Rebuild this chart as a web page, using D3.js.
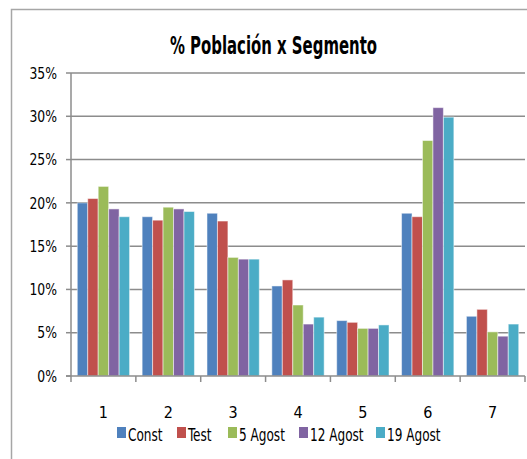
<!DOCTYPE html>
<html>
<head>
<meta charset="utf-8">
<script src="https://cdn.jsdelivr.net/npm/d3@7"></script>
<style>
  body { margin: 0; background: #fff; }
  svg { display: block; }
  text { font-family: "Liberation Sans Narrow", "DejaVu Sans Condensed", "Arial Narrow", sans-serif; fill: #000; }
</style>
</head>
<body>
<div id="chart"></div>
<script>
var svgWidth = 527;
var svgHeight = 459;

// data
var segments = ["1", "2", "3", "4", "5", "6", "7"];
var seriesNames = ["Const", "Test", "5 Agost", "12 Agost", "19 Agost"];
var constVals = [20.0, 18.4, 18.8, 10.4, 6.4, 18.8, 6.9];
var testVals = [20.5, 18.0, 17.9, 11.1, 6.2, 18.4, 7.7];
var agost5Vals = [21.9, 19.5, 13.7, 8.2, 5.5, 27.2, 5.1];
var agost12Vals = [19.3, 19.3, 13.5, 6.0, 5.5, 31.0, 4.6];
var agost19Vals = [18.4, 19.0, 13.5, 6.8, 5.9, 29.9, 6.0];
var yTicks = [0, 5, 10, 15, 20, 25, 30, 35];
var colors = ["#4F81BD", "#C0504D", "#9BBB59", "#8064A2", "#4BACC6"];

var allSeries = [constVals, testVals, agost5Vals, agost12Vals, agost19Vals];

var chartMargin = { top: 73, right: 2, bottom: 83, left: 71 };
var width = svgWidth - chartMargin.left - chartMargin.right;
var height = svgHeight - chartMargin.top - chartMargin.bottom;

// squeeze text a little so the fallback font is as narrow as the original
function narrow(sel, factor) {
    sel.each(function() {
        var w = this.getComputedTextLength();
        d3.select(this)
            .attr("textLength", w * factor)
            .attr("lengthAdjust", "spacingAndGlyphs");
    });
}

var svg = d3.select("#chart")
    .append("svg")
    .attr("width", svgWidth)
    .attr("height", svgHeight);

// outer chart frame (only top and left visible)
svg.append("path")
    .attr("d", "M11.5,459 V9.5 H527")
    .attr("fill", "none")
    .attr("stroke", "#a6a6a6")
    .attr("stroke-width", 1.5);

// title
var title = svg.append("text")
    .attr("x", 273.5)
    .attr("y", 54)
    .attr("text-anchor", "middle")
    .attr("font-size", 25)
    .attr("font-weight", "bold")
    .text("% Población x Segmento")
    .attr("textLength", 207)
    .attr("lengthAdjust", "spacingAndGlyphs");

var chartGroup = svg.append("g")
    .attr("transform", `translate(${chartMargin.left}, ${chartMargin.top})`);

var xScale = d3.scaleBand()
    .domain(segments)
    .range([0, width]);

var xInner = d3.scaleBand()
    .domain(seriesNames)
    .range([0, xScale.bandwidth()])
    .paddingOuter(0.6);

var yScale = d3.scaleLinear()
    .domain([0, 35])
    .range([height, 0]);

// gridlines
chartGroup.append("g")
    .selectAll("line")
    .data(yTicks.slice(1))
    .enter()
    .append("line")
    .attr("x1", 0)
    .attr("x2", width)
    .attr("y1", d => yScale(d))
    .attr("y2", d => yScale(d))
    .attr("stroke", "#8c8c8c")
    .attr("stroke-width", 1.5);

// y axis labels
chartGroup.append("g")
    .selectAll("text")
    .data(yTicks)
    .enter()
    .append("text")
    .attr("x", -14)
    .attr("y", d => yScale(d))
    .attr("dy", "0.36em")
    .attr("text-anchor", "end")
    .attr("font-size", 16)
    .text(d => d + "%")
    .call(narrow, 0.86);

// y axis ticks
chartGroup.append("g")
    .selectAll("line")
    .data(yTicks)
    .enter()
    .append("line")
    .attr("x1", -5)
    .attr("x2", 0)
    .attr("y1", d => yScale(d))
    .attr("y2", d => yScale(d))
    .attr("stroke", "#8c8c8c")
    .attr("stroke-width", 1.5);

// bars
var groups = chartGroup.selectAll(".seg")
    .data(segments)
    .enter()
    .append("g")
    .attr("class", "seg")
    .attr("transform", d => `translate(${xScale(d)}, 0)`);

groups.selectAll("rect")
    .data((d, i) => allSeries.map((s, j) => ({ name: seriesNames[j], value: s[i], color: colors[j] })))
    .enter()
    .append("rect")
    .attr("x", d => xInner(d.name))
    .attr("y", d => yScale(d.value))
    .attr("width", xInner.bandwidth())
    .attr("height", d => height - yScale(d.value))
    .attr("fill", d => d.color)
    .attr("stroke", "#ffffff")
    .attr("stroke-opacity", 0.5)
    .attr("stroke-width", 1);

// axes lines
chartGroup.append("line")
    .attr("x1", 0).attr("x2", 0)
    .attr("y1", 0).attr("y2", height)
    .attr("stroke", "#8c8c8c")
    .attr("stroke-width", 1.5);

chartGroup.append("line")
    .attr("x1", -5).attr("x2", width)
    .attr("y1", height).attr("y2", height)
    .attr("stroke", "#8c8c8c")
    .attr("stroke-width", 1.5);

// x ticks at category boundaries
chartGroup.append("g")
    .selectAll("line")
    .data(segments.concat(["end"]))
    .enter()
    .append("line")
    .attr("x1", (d, i) => i * xScale.step())
    .attr("x2", (d, i) => i * xScale.step())
    .attr("y1", height)
    .attr("y2", height + 6)
    .attr("stroke", "#8c8c8c")
    .attr("stroke-width", 1.5);

// x labels
chartGroup.append("g")
    .selectAll("text")
    .data(segments)
    .enter()
    .append("text")
    .attr("x", d => xScale(d) + xScale.bandwidth() / 2)
    .attr("y", height + 42)
    .attr("text-anchor", "middle")
    .attr("font-size", 16)
    .text(d => d);

// legend
var legendX = [117, 177, 228, 299, 376];
var legend = svg.append("g")
    .selectAll("g")
    .data(seriesNames)
    .enter()
    .append("g")
    .attr("transform", (d, i) => `translate(${legendX[i]}, 427)`);

legend.append("rect")
    .attr("width", 9)
    .attr("height", 11)
    .attr("fill", (d, i) => colors[i]);

legend.append("text")
    .attr("x", 11)
    .attr("y", 14)
    .attr("font-size", 17)
    .text(d => d)
    .call(narrow, 0.79);
</script>
</body>
</html>
